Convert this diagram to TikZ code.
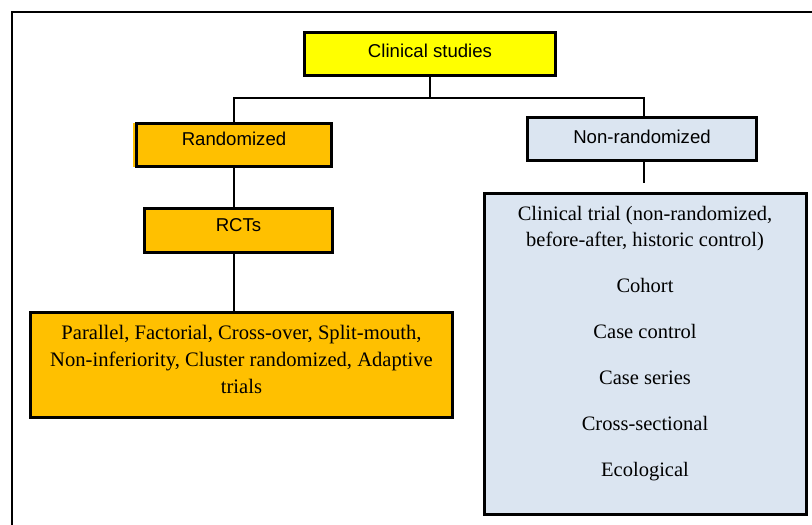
\documentclass[tikz,border=0pt]{standalone}
\usepackage{fontspec}
\setmainfont{Liberation Serif}
\newfontfamily\arialf{Liberation Sans}
\definecolor{boxyellow}{HTML}{FFFF00}
\definecolor{boxorange}{HTML}{FFC000}
\definecolor{boxblue}{HTML}{DBE5F1}
\tikzset{
  headbox/.style={draw=black, line width=3pt, inner sep=0pt,
    font=\arialf\fontsize{18.6}{21}\selectfont},
  listbox/.style={draw=black, line width=3pt, inner sep=0pt},
  listtext/.style={align=center, inner sep=0pt},
  conn/.style={draw=black, line width=2pt},
  frame/.style={draw=black, line width=2.2pt}
}
\begin{document}
\begin{tikzpicture}[x=1pt,y=-1pt]
\useasboundingbox (0,0) rectangle (812,525);
\begin{scope}
  \clip (0,0) rectangle (812,525);
  \draw[frame] (12,12) rectangle (840,560);
\end{scope}

% boxes
\node[headbox, fill=boxyellow, minimum width=251pt, minimum height=43pt,
      text height=12pt, text depth=5pt] (cs) at (430,54) {Clinical studies};
\fill[boxorange] (133,123) rectangle (136,167);
\node[headbox, fill=boxorange, minimum width=195pt, minimum height=43pt,
      text height=10pt, text depth=10pt] (rand) at (234,145) {Randomized};
\node[headbox, fill=boxblue, minimum width=229pt, minimum height=43pt,
      text height=12pt, text depth=4pt] (nonr) at (642,139) {Non-randomized};
\node[headbox, fill=boxorange, minimum width=188pt, minimum height=44pt,
      text height=10.5pt, text depth=9.5pt] (rcts) at (238.5,230.5) {RCTs};

\node[listbox, fill=boxorange, minimum width=422pt, minimum height=105pt] (par) at (241.5,365) {};
\node[listtext, font=\fontsize{20.6}{27}\selectfont] (partext) at (241.5,359)
  {Parallel, Factorial, Cross-over, Split-mouth,\\
   Non-inferiority, Cluster randomized, Adaptive\\
   trials};

\node[listbox, fill=boxblue, minimum width=322pt, minimum height=321pt] (big) at (645.5,354) {};
\node[listtext, font=\fontsize{20.5}{26}\selectfont] (bigtext) at (645,343.5)
  {Clinical trial (non-randomized,\\
   before-after, historic control)\\[20pt]
   Cohort\\[20pt]
   Case control\\[20pt]
   Case series\\[20pt]
   Cross-sectional\\[20pt]
   Ecological};

% connectors
\coordinate (busL) at (234,98);
\coordinate (busR) at (644,98);
\coordinate (nonrend) at (644,183);
\draw[conn] (cs.south) -- (cs.south |- busL);
\draw[conn] (rand.north) -- (busL) -- (busR) -- (busR |- nonr.north);
\draw[conn] (rand.south) -- (rand.south |- rcts.north);
\draw[conn] (rand.south |- rcts.south) -- (rand.south |- par.north);
\draw[conn] (busR |- nonr.south) -- (nonrend);
\end{tikzpicture}
\end{document}
